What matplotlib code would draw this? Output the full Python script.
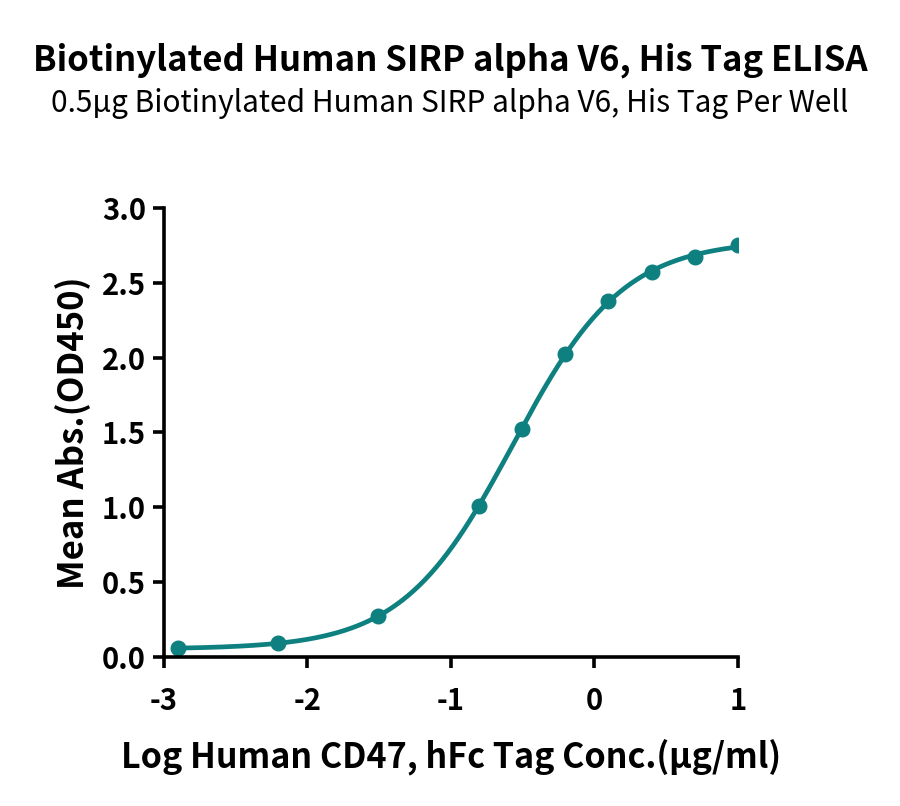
import numpy as np
import matplotlib
matplotlib.use('Agg')
import matplotlib.pyplot as plt

plt.rcParams['font.family'] = ['Noto Sans CJK SC', 'DejaVu Sans']

# log conc (ug/ml) and mean OD450
log_conc = [-2.903, -2.204, -1.505, -0.806, -0.505, -0.204, 0.097, 0.398, 0.699, 1.0]
od450 = [0.058, 0.091, 0.275, 1.009, 1.525, 2.025, 2.375, 2.573, 2.673, 2.753]

title = 'Biotinylated Human SIRP alpha V6, His Tag ELISA'
subtitle = '0.5\u00b5g Biotinylated Human SIRP alpha V6, His Tag Per Well'
xlabel = 'Log Human CD47, hFc Tag Conc.(\u00b5g/ml)'
ylabel = 'Mean Abs.(OD450)'
xticks = [-3, -2, -1, 0, 1]
yticks = [0.0, 0.5, 1.0, 1.5, 2.0, 2.5, 3.0]

color = '#0f8080'


def fourpl(p, x):
    bottom, top, logec50, hill = p
    return bottom + (top - bottom) / (1 + 10 ** ((logec50 - x) * hill))


def fit_4pl(x, y):
    # small Levenberg-Marquardt, no scipy here
    x = np.asarray(x)
    y = np.asarray(y)
    p = np.array([0.05, 2.85, -0.6, 1.2])
    lam = 1e-2
    for i in range(300):
        r = y - fourpl(p, x)
        J = np.zeros((len(x), 4))
        for k in range(4):
            dp = np.zeros(4)
            dp[k] = 1e-6
            J[:, k] = (fourpl(p + dp, x) - fourpl(p - dp, x)) / 2e-6
        A = J.T @ J
        step = np.linalg.solve(A + lam * np.diag(np.diag(A)), J.T @ r)
        pn = p + step
        if np.sum((y - fourpl(pn, x)) ** 2) < np.sum(r ** 2):
            p = pn
            lam *= 0.5
        else:
            lam *= 4
    return p


params = fit_4pl(log_conc, od450)
xs = np.linspace(min(log_conc), max(log_conc), 400)

fig = plt.figure(figsize=(9, 8.06), dpi=100)
ax = fig.add_axes([0.182, 0.185, 0.638, 0.557])

ax.plot(xs, fourpl(params, xs), color=color, lw=3.4, solid_capstyle='round')
ax.plot(log_conc, od450, 'o', color=color, ms=10.5)

ax.set_xlim(-3, 1)
ax.set_ylim(0, 3)
ax.set_xticks(xticks)
ax.set_xticklabels([str(t) for t in xticks])
ax.set_yticks(yticks)
ax.set_yticklabels(['%.1f' % t for t in yticks])

for s in ['top', 'right']:
    ax.spines[s].set_visible(False)
for s in ['left', 'bottom']:
    ax.spines[s].set_linewidth(2.6)
ax.tick_params(width=2.6, length=8, labelsize=21, pad=5)
for lab in ax.get_xticklabels() + ax.get_yticklabels():
    lab.set_fontweight('black')
ax.tick_params(axis='x', pad=13)

ax.set_xlabel(xlabel, fontsize=24.5, fontweight='black', labelpad=16)
ax.set_ylabel(ylabel, fontsize=25, fontweight='black', labelpad=8)

fig.text(0.5, 0.925, title, ha='center', va='center', fontsize=25, fontweight='bold')
fig.text(0.5, 0.871, subtitle, ha='center', va='center', fontsize=21.5)

fig.savefig('out.png', dpi=100)
